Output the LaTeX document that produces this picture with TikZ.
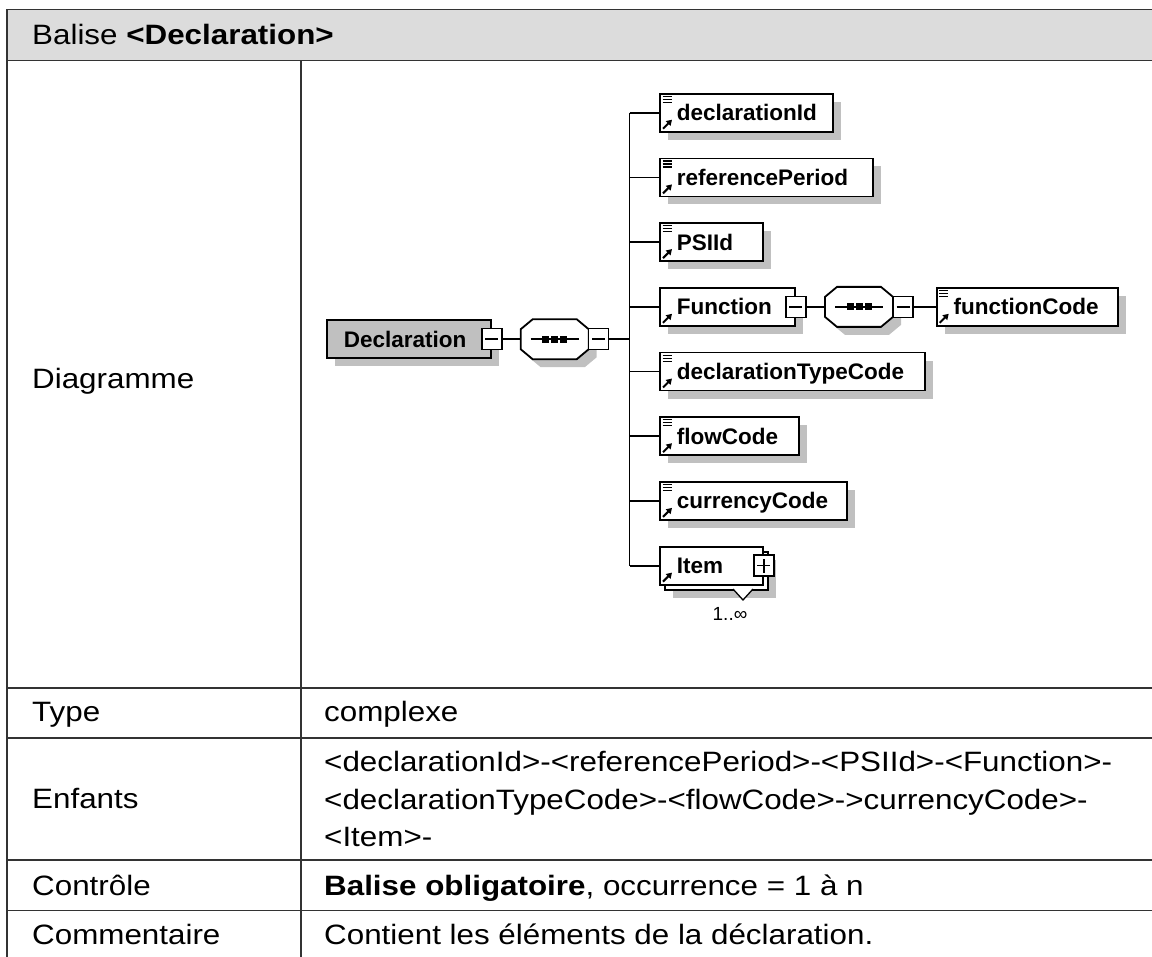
\documentclass[tikz,border=0pt]{standalone}
\usepackage{fontspec}
\setmainfont{Liberation Sans}[FakeStretch=1.12]
\newfontfamily\dgmfont{Liberation Sans}
\usetikzlibrary{calc,shadows,arrows.meta}
\definecolor{hdrgray}{HTML}{DCDCDC}
\definecolor{shgray}{HTML}{C0C0C0}
\definecolor{rootgray}{HTML}{C0C0C0}
\definecolor{tblline}{HTML}{333333}
\hyphenpenalty=10000
\exhyphenpenalty=10000
\newcommand\eqicon[1]{\foreach \k in {3.5,6.5,9.5}{\draw[line width=1.2pt] ($(#1.north west)+(3.5,\k)$) -- ++(9,0);}}
\newcommand\arricon[1]{\draw[line width=2pt,-{Triangle[length=5.5pt,width=6.5pt]}] ($(#1.south west)+(4,-4)$) -- ++(9,-9);}
\newcommand\seqnode[3]{%
  \begin{scope}[shift={(#2,#3)}]
    \fill[shgray] (-14,-12) -- (30,-12) -- (42,-2) -- (42,18) -- (30,28) -- (-14,28) -- (-26,18) -- (-26,-2) -- cycle;
    \draw[fill=white,line width=1.8pt] (-22,-20) -- (22,-20) -- (34,-10) -- (34,10) -- (22,20) -- (-22,20) -- (-34,10) -- (-34,-10) -- cycle;
    \draw[line width=1.6pt] (-24,0) -- (24,0);
    \foreach \u in {-9,0,9} \fill (\u-3.5,-3.5) rectangle ++(7,7);
  \end{scope}
  \node[inner sep=0pt,minimum width=68pt,minimum height=40pt] (#1) at (#2,#3) {};
}
\begin{document}
\begin{tikzpicture}[x=1pt,y=-1pt,
  tline/.style={draw=tblline,line width=1.8pt},
  ttext/.style={anchor=base west,inner sep=0pt,font=\fontsize{28}{34}\selectfont},
  conn/.style={line width=1.8pt},
  elem/.style={draw,fill=white,line width=1.8pt,inner xsep=17pt,inner ysep=0pt,
    minimum height=38pt,text height=16pt,text depth=0pt,align=left,anchor=west,
    font=\dgmfont\bfseries\fontsize{22.5}{26}\selectfont},
  elemsh/.style={elem,general shadow={fill=shgray,shadow xshift=8pt,shadow yshift=-8pt}},
  expbox/.style={draw,fill=white,line width=1.5pt,minimum width=20pt,minimum height=21pt,inner sep=0pt},
  minusx/.style={expbox,path picture={\draw[line width=1.5pt] ([xshift=3.5pt]path picture bounding box.west) -- ([xshift=-3.5pt]path picture bounding box.east);}},
  plusx/.style={expbox,path picture={\draw[line width=1.5pt] ([xshift=3.5pt]path picture bounding box.west) -- ([xshift=-3.5pt]path picture bounding box.east);
      \draw[line width=1.5pt] ([yshift=3.5pt]path picture bounding box.south) -- ([yshift=-3.5pt]path picture bounding box.north);}}
]
\useasboundingbox (0,0) rectangle (1152,957);
% ---------- table ----------
\fill[hdrgray] (7,9.5) rectangle (1153,60.5);
\draw[tline] (1153,9.5) -- (7,9.5) -- (7,958);
\draw[tline] (7,60.5) -- (1153,60.5);
\draw[tline] (301,60.5) -- (301,958);
\foreach \yy in {688,738,860,910.5} \draw[tline] (7,\yy) -- (1153,\yy);
\node[ttext] (hdr) at (32,45) {Balise \textbf{<Declaration>}};
\node[ttext] (l1) at (32,389) {Diagramme};
\node[ttext] (l2) at (32,721.7) {Type};
\node[ttext] (v2) at (324,721.7) {complexe};
\node[ttext] (l3) at (32,808.3) {Enfants};
\node[ttext] (v3a) at (324,771) {<declarationId>-<referencePeriod>-<PSIId>-<Function>-};
\node[ttext] (v3b) at (324,809) {<declarationTypeCode>-<flowCode>->currencyCode>-};
\node[ttext] (v3c) at (324,846.5) {<Item>-};
\node[ttext] (l4) at (32,895) {Contrôle};
\node[ttext] (v4) at (324,895) {\textbf{Balise obligatoire}, occurrence = 1 à n};
\node[ttext] (l5) at (32,944) {Commentaire};
\node[ttext] (v5) at (324,944) {Contient les éléments de la déclaration.};
% ---------- diagram ----------
\node[elemsh,fill=rootgray,text width=130pt] (root) at (326,339.25) {Declaration};
\node[minusx] (rx) at (root.east) {};
\seqnode{q1}{554.7}{339.25}
\node[minusx] (q1x) at (598.7,339.25) {};
\coordinate (tk) at (629.5,339.25);

\node[elemsh,text width=139pt] (d1) at (659,112.8) {declarationId};
\node[elemsh,text width=179pt] (d2) at (659,177.5) {referencePeriod};
\node[elemsh,text width=69pt]  (d3) at (659,242.2) {PSIId};
\node[elemsh,text width=101pt] (d4) at (659,306.9) {Function};
\node[elemsh,text width=231pt] (d5) at (659,371.6) {declarationTypeCode};
\node[elemsh,text width=105pt] (d6) at (659,436.3) {flowCode};
\node[elemsh,text width=153pt] (d7) at (659,501.0) {currencyCode};
\node[elemsh,text width=69pt]  (d8b) at (664,570.7) {};
\node[elem,text width=69pt]    (d8) at (659,565.7) {Item};

\foreach \n in {d1,d2,d3,d5,d6,d7} {\eqicon{\n}}
\foreach \n in {d1,d2,d3,d4,d5,d6,d7,d8} {\arricon{\n}}

\node[minusx] (fx) at (d4.east) {};
\seqnode{q2}{859}{306.9}
\node[minusx] (q2x) at (903,306.9) {};
\node[elemsh,text width=147pt] (f1) at (935.7,306.9) {functionCode};
\eqicon{f1}
\arricon{f1}

\node[plusx] (ix) at (d8.east) {};
\fill[white] (733,589) -- (743,600) -- (753,589) -- cycle;
\draw[line width=1.3pt] (733,589) -- (743,600) -- (753,589);
\node[inner sep=0pt,font=\dgmfont\fontsize{19}{22}\selectfont] (occ) at (730,614) {1..∞};

% connectors
\draw[conn] (rx.east) -- (q1.west);
\draw[conn] (q1x.east) -- (tk);
\draw[conn] (tk |- d1.west) -- (tk |- d8.west);
\foreach \n in {d1,d2,d3,d4,d5,d6,d7,d8} {\draw[conn] (tk |- \n.west) -- (\n.west);}
\draw[conn] (fx.east) -- (q2.west);
\draw[conn] (q2x.east) -- (f1.west);
\end{tikzpicture}
\end{document}
